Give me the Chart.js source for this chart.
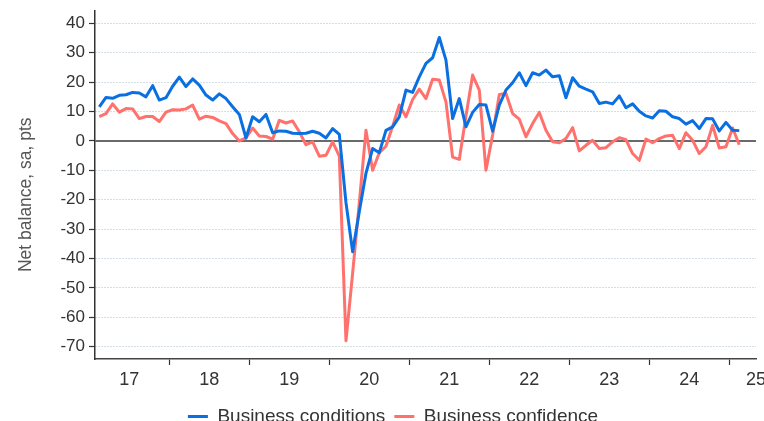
<!DOCTYPE html>
<html>
<head>
<meta charset="utf-8">
<script src="https://cdn.jsdelivr.net/npm/chart.js@4.4.1/dist/chart.umd.min.js"></script>
<style>
  html, body { margin: 0; padding: 0; background: #fff; overflow: hidden; width: 764px; height: 421px; }
  #wrap { position: relative; width: 764px; height: 436px; }
</style>
</head>
<body>
<div id="wrap"><canvas id="chart"></canvas></div>
<script>
// -------- DATA --------
const months = [
  "2017-02","2017-03","2017-04","2017-05","2017-06","2017-07","2017-08","2017-09","2017-10","2017-11","2017-12",
  "2018-01","2018-02","2018-03","2018-04","2018-05","2018-06","2018-07","2018-08","2018-09","2018-10","2018-11","2018-12",
  "2019-01","2019-02","2019-03","2019-04","2019-05","2019-06","2019-07","2019-08","2019-09","2019-10","2019-11","2019-12",
  "2020-01","2020-02","2020-03","2020-04","2020-05","2020-06","2020-07","2020-08","2020-09","2020-10","2020-11","2020-12",
  "2021-01","2021-02","2021-03","2021-04","2021-05","2021-06","2021-07","2021-08","2021-09","2021-10","2021-11","2021-12",
  "2022-01","2022-02","2022-03","2022-04","2022-05","2022-06","2022-07","2022-08","2022-09","2022-10","2022-11","2022-12",
  "2023-01","2023-02","2023-03","2023-04","2023-05","2023-06","2023-07","2023-08","2023-09","2023-10","2023-11","2023-12",
  "2024-01","2024-02","2024-03","2024-04","2024-05","2024-06","2024-07","2024-08","2024-09","2024-10","2024-11","2024-12",
  "2025-01","2025-02"
];

const conditions = [
  11.6, 14.8, 14.5, 15.5, 15.7, 16.5, 16.3, 15, 18.8, 13.9, 14.7,
  18.6, 21.7, 18.5, 21.1, 19, 15.6, 13.9, 16, 14.4, 11.6, 9, 1,
  8.2, 6.5, 9, 2.8, 3.4, 3.3, 2.6, 2.5, 2.6, 3.3, 2.6, 1,
  4.2, 2.2, -21, -37.7, -24, -11, -2.6, -4, 3.6, 4.8, 8.2, 17.3,
  16.5, 21.8, 26.4, 28.3, 35.2, 27.5, 7.6, 14.4, 4.8, 9.7, 12.4, 12.2,
  3.3, 12.2, 17.3, 19.8, 23.2, 18.8, 23.2, 22.4, 24.1, 21.8, 22.2, 14.7,
  21.5, 18.6, 17.6, 16.7, 12.7, 13.2, 12.6, 15.3, 11.3, 12.6, 10.1, 8.5,
  7.8, 10.3, 10.1, 8.2, 7.6, 5.7, 6.9, 4.2, 7.6, 7.5, 3.4, 6.3,
  3.6, 3.5
];

const confidence = [
  8.3, 9.3, 12.6, 9.8, 11, 10.9, 7.6, 8.3, 8.3, 6.6, 9.8,
  10.6, 10.5, 10.9, 12.2, 7.4, 8.4, 8, 6.8, 5.9, 2.5, 0, 1,
  4.4, 1.7, 1.5, 0.6, 7, 6.1, 6.8, 3.1, -1.3, -0.3, -5.2, -4.9,
  -0.3, -5.2, -68, -45, -21, 3.6, -10, -4, -1.8, 5, 12.2, 8.2,
  14.1, 17.6, 14.4, 21, 20.7, 13.3, -5.5, -6.3, 8.5, 22.4, 17.3, -10,
  2, 15.8, 16.1, 9.3, 7.4, 1.4, 5.9, 9.7, 3.6, -0.3, -0.6, 0.8,
  4.5, -3.4, -1.5, 0.2, -2.6, -2.3, -0.3, 1.1, 0.4, -4.3, -6.6, 0.6,
  -0.6, 0.8, 1.7, 1.9, -2.6, 2.8, 0.2, -4.3, -2, 5.3, -2.4, -2,
  4.4, -1.3
];

const yearLabels = ["17","18","19","20","21","22","23","24","25"];
const yTicks = [-70, -60, -50, -40, -30, -20, -10, 0, 10, 20, 30, 40];

// -------- HELPERS --------
const FONT = '"Liberation Sans", Arial, Helvetica, sans-serif';
const xMin = 2017.071, xMax = 2025.334;

function monthToX(m){
  const [y, mo] = m.split("-").map(Number);
  return y + (mo - 0.5) / 12;
}
const toPoints = vals => months.map((m, i) => ({x: monthToX(m), y: vals[i]}));

// year boundaries carry the tick marks, labels sit mid-year
const xTickLabel = {};
const xTickList = [];
yearLabels.forEach((lab, i) => {
  const yr = 2017 + i;
  const mid = yr + 0.5 <= xMax ? yr + 0.5 : xMax;
  xTickLabel[mid] = lab;
  xTickList.push({value: mid});
  if (yr > 2017 && yr <= xMax) xTickList.push({value: yr});
});

// -------- PLUGINS --------
const zeroLine = {
  id: "zeroLine",
  beforeDatasetsDraw(chart){
    const {ctx, chartArea: a, scales: {y}} = chart;
    const py = Math.round(y.getPixelForValue(0));
    ctx.save();
    ctx.strokeStyle = "#6a6a6a";
    ctx.lineWidth = 2;
    ctx.beginPath();
    ctx.moveTo(a.left, py);
    ctx.lineTo(a.right, py);
    ctx.stroke();
    ctx.restore();
  }
};

const legendShift = {
  id: "legendShift",
  afterLayout(chart){
    chart.legend.left += 15;
    chart.legend.right += 15;
  }
};

// -------- CHART --------
Chart.defaults.font.family = FONT;

new Chart(document.getElementById("chart"), {
  type: "line",
  data: {
    datasets: [
      {
        label: "Business conditions",
        data: toPoints(conditions),
        borderColor: "#0a6fe0",
        backgroundColor: "#0a6fe0",
        borderWidth: 3,
        pointRadius: 0,
        tension: 0,
        borderJoinStyle: "round"
      },
      {
        label: "Business confidence",
        data: toPoints(confidence),
        borderColor: "#ff716c",
        backgroundColor: "#ff716c",
        borderWidth: 3,
        pointRadius: 0,
        tension: 0,
        borderJoinStyle: "round"
      }
    ]
  },
  options: {
    responsive: true,
    maintainAspectRatio: false,
    animation: false,
    layout: {padding: {top: 11, right: 8, left: 0, bottom: 0}},
    plugins: {
      tooltip: {enabled: false},
      legend: {
        position: "bottom",
        labels: {
          color: "#333",
          font: {size: 19},
          boxWidth: 20,
          boxHeight: 3,
          padding: 9,
          generateLabels(chart){
            return Chart.defaults.plugins.legend.labels.generateLabels(chart)
              .map(l => ({...l, lineWidth: 0}));
          }
        }
      }
    },
    scales: {
      x: {
        type: "linear",
        min: xMin,
        max: xMax,
        afterBuildTicks: s => { s.ticks = xTickList.map(t => ({...t})); },
        afterFit: s => { s.paddingLeft = 0; s.paddingRight = 0; s.height = 39; },
        ticks: {
          color: "#333",
          font: {size: 18},
          padding: 4,
          maxRotation: 0,
          autoSkip: false,
          callback: v => xTickLabel[v] || ""
        },
        grid: {
          drawOnChartArea: false,
          tickLength: 6,
          tickWidth: 1.2,
          tickColor: c => (c.tick && Number.isInteger(c.tick.value)) ? "#333" : "rgba(0,0,0,0)"
        },
        border: {display: true, color: "#444", width: 1.5}
      },
      y: {
        min: -74.2,
        max: 44.2,
        afterBuildTicks: s => { s.ticks = yTicks.map(v => ({value: v})); },
        afterFit: s => { s.width = 95; s.paddingTop = 0; s.paddingBottom = 0; },
        ticks: {
          color: "#333",
          font: {size: 17},
          padding: 4
        },
        grid: {
          color: c => (c.tick && c.tick.value === 0) ? "rgba(0,0,0,0)" : "#a9bcc6",
          lineWidth: 1,
          tickLength: 6,
          tickColor: "#333",
          tickWidth: 1.2
        },
        border: {display: true, color: "#333", width: 1.5, dash: [1, 2]},
        title: {
          display: true,
          text: "Net balance, sa, pts    ",
          color: "#555",
          font: {size: 17.5},
          padding: {top: 16, bottom: 0}
        }
      }
    }
  },
  plugins: [zeroLine, legendShift]
});
</script>
</body>
</html>
